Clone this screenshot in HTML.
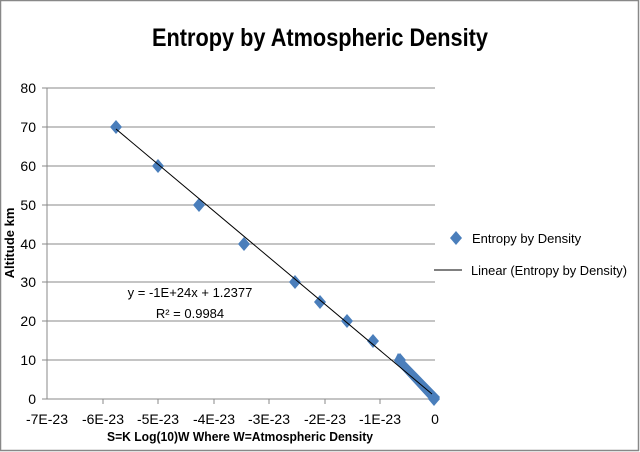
<!DOCTYPE html>
<html><head><style>body{margin:0;background:#fff}svg{display:block}</style></head><body>
<svg width="640" height="452" xmlns="http://www.w3.org/2000/svg" font-family="Liberation Sans, sans-serif">
<rect x="0.5" y="0.5" width="638" height="450" fill="#fff" stroke="#888" stroke-width="1.5"/>
<text x="152" y="46" textLength="336" lengthAdjust="spacingAndGlyphs" font-size="25" font-weight="bold" fill="#000">Entropy by Atmospheric Density</text>
<g stroke="#888" stroke-width="1">
<line x1="47" y1="88" x2="435" y2="88"/><line x1="47" y1="127" x2="435" y2="127"/><line x1="47" y1="166" x2="435" y2="166"/><line x1="47" y1="205" x2="435" y2="205"/><line x1="47" y1="244" x2="435" y2="244"/><line x1="47" y1="282" x2="435" y2="282"/><line x1="47" y1="321" x2="435" y2="321"/><line x1="47" y1="360" x2="435" y2="360"/>
<line x1="47" y1="88" x2="47" y2="399"/><line x1="47" y1="399" x2="435" y2="399"/>
<line x1="42" y1="88" x2="47" y2="88"/><line x1="42" y1="127" x2="47" y2="127"/><line x1="42" y1="166" x2="47" y2="166"/><line x1="42" y1="205" x2="47" y2="205"/><line x1="42" y1="244" x2="47" y2="244"/><line x1="42" y1="282" x2="47" y2="282"/><line x1="42" y1="321" x2="47" y2="321"/><line x1="42" y1="360" x2="47" y2="360"/><line x1="42" y1="399" x2="47" y2="399"/>
<line x1="103" y1="399" x2="103" y2="404"/><line x1="158" y1="399" x2="158" y2="404"/><line x1="214" y1="399" x2="214" y2="404"/><line x1="269" y1="399" x2="269" y2="404"/><line x1="325" y1="399" x2="325" y2="404"/><line x1="380" y1="399" x2="380" y2="404"/><line x1="435" y1="399" x2="435" y2="404"/>
</g>
<g font-size="14" text-anchor="end" fill="#000">
<text x="36" y="93">80</text><text x="36" y="132">70</text><text x="36" y="171">60</text><text x="36" y="210">50</text><text x="36" y="249">40</text><text x="36" y="287">30</text><text x="36" y="326">20</text><text x="36" y="365">10</text><text x="36" y="404">0</text>
</g>
<g font-size="14" text-anchor="middle" fill="#000">
<text x="47" y="424">-7E-23</text><text x="103" y="424">-6E-23</text><text x="158" y="424">-5E-23</text><text x="214" y="424">-4E-23</text><text x="269" y="424">-3E-23</text><text x="325" y="424">-2E-23</text><text x="380" y="424">-1E-23</text><text x="435" y="424">0</text>
</g>
<text x="107" y="441" textLength="266" lengthAdjust="spacingAndGlyphs" font-size="13" font-weight="bold">S=K Log(10)W Where W=Atmospheric Density</text>
<text transform="translate(14,243) rotate(-90)" text-anchor="middle" font-size="13" font-weight="bold">Altitude km</text>
<g fill="#4a7ebb">
<path d="M0,-7 L6,0 L0,7 L-6,0Z" transform="translate(116,127)"/>
<path d="M0,-7 L6,0 L0,7 L-6,0Z" transform="translate(158,166)"/>
<path d="M0,-7 L6,0 L0,7 L-6,0Z" transform="translate(199,205)"/>
<path d="M0,-7 L6,0 L0,7 L-6,0Z" transform="translate(244,244)"/>
<path d="M0,-7 L6,0 L0,7 L-6,0Z" transform="translate(295,282)"/>
<path d="M0,-7 L6,0 L0,7 L-6,0Z" transform="translate(320,302)"/>
<path d="M0,-7 L6,0 L0,7 L-6,0Z" transform="translate(347,321)"/>
<path d="M0,-7 L6,0 L0,7 L-6,0Z" transform="translate(373,341)"/>
<path d="M398,353 L404,360 L440,397 L434,405 L428,398 L394,361Z"/>
<path d="M0,-7 L6,0 L0,7 L-6,0Z" transform="translate(400,360)"/>
<path d="M0,-7 L6,0 L0,7 L-6,0Z" transform="translate(434,399)"/>
</g>
<line x1="116" y1="129" x2="432" y2="394" stroke="#000" stroke-width="1"/>
<text x="190" y="297" text-anchor="middle" font-size="13">y = -1E+24x + 1.2377</text>
<text x="190" y="318" text-anchor="middle" font-size="13">R² = 0.9984</text>
<path d="M0,-7 L6,0 L0,7 L-6,0Z" transform="translate(456,238)" fill="#4a7ebb"/>
<text x="472" y="243" font-size="13">Entropy by Density</text>
<line x1="434" y1="270" x2="462" y2="270" stroke="#000"/>
<text x="471" y="275" textLength="156" lengthAdjust="spacingAndGlyphs" font-size="13">Linear (Entropy by Density)</text>
</svg>
</body></html>
